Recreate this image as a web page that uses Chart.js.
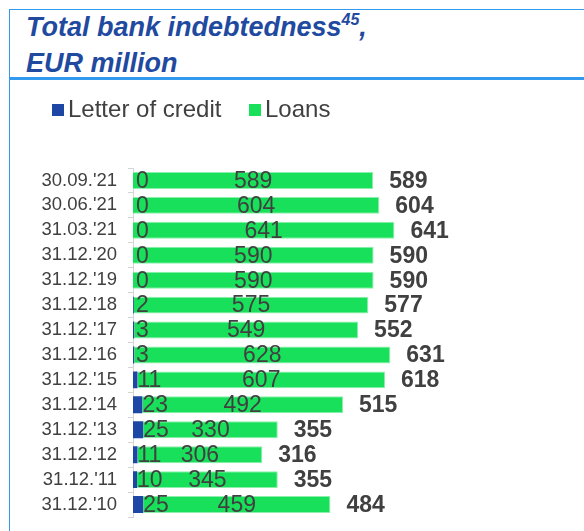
<!DOCTYPE html>
<html>
<head>
<meta charset="utf-8">
<script src="https://cdn.jsdelivr.net/npm/chart.js@4.4.1/dist/chart.umd.min.js"></script>
<style>
html,body{margin:0;padding:0;background:#fff;width:584px;height:531px;overflow:hidden;font-family:"Liberation Sans",Arial,sans-serif}
#frame{position:absolute;left:9px;top:9px;width:575px;height:522px;border-left:1px solid #3399ee;border-top:1px solid #3399ee;box-sizing:border-box}
#title{position:absolute;left:26px;top:11px;font:italic bold 27px "Liberation Sans",Arial,sans-serif;color:#1f4aa0;line-height:33px;white-space:nowrap}
#title .sup{font-size:16px;position:relative;top:-11px}
#rule{position:absolute;left:9px;top:77px;width:575px;height:3px;background:#3399ee}
#wrap{position:absolute;left:9px;top:60px;width:575px;height:471px}
</style>
</head>
<body>
<div id="frame"></div>
<div id="title">Total bank indebtedness<span class="sup">45</span>,<br>EUR million</div>
<div id="rule"></div>
<div id="wrap"><canvas id="c" width="575" height="471"></canvas></div>
<script>
const categories = ["30.09.'21","30.06.'21","31.03.'21","31.12.'20","31.12.'19","31.12.'18","31.12.'17","31.12.'16","31.12.'15","31.12.'14","31.12.'13","31.12.'12","31.12.'11","31.12.'10"];
const letterOfCredit = [0,0,0,0,0,2,3,3,11,23,25,11,10,25];
const loans = [589,604,641,590,590,575,549,628,607,492,330,306,345,459];
const totals = [589,604,641,590,590,577,552,631,618,515,355,316,355,484];
const seriesNames = ["Letter of credit","Loans"];
const seriesColors = ['#1e46a4', '#18e05a'];

const FONT = '"Liberation Sans", Arial, sans-serif';
const TEXT = '#404040';
const LEGEND_SIZE = 24;

const labelPlugin = {
  id: 'barLabels',
  afterDatasetsDraw(chart) {
    const ctx = chart.ctx;
    const locMeta = chart.getDatasetMeta(0);
    const loanMeta = chart.getDatasetMeta(1);
    ctx.save();
    ctx.fillStyle = TEXT;
    ctx.textBaseline = 'middle';
    locMeta.data.forEach((bar, i) => {
      ctx.font = '23px ' + FONT;
      ctx.textAlign = 'left';
      ctx.fillText(String(letterOfCredit[i]), Math.max(bar.x, bar.base + 3), bar.y + 1);
    });
    loanMeta.data.forEach((bar, i) => {
      ctx.font = '23px ' + FONT;
      ctx.textAlign = 'center';
      ctx.fillText(String(loans[i]), (bar.x + bar.base) / 2, bar.y + 1);
      ctx.font = 'bold 23px ' + FONT;
      ctx.textAlign = 'left';
      ctx.fillText(String(totals[i]), bar.x + 16, bar.y + 1);
    });
    ctx.restore();
  }
};

// legend squares drawn tight to the legend text
const legendSquares = {
  id: 'legendSquares',
  afterDraw(chart) {
    const lg = chart.legend;
    if (!lg || !lg.legendHitBoxes) return;
    const ctx = chart.ctx;
    ctx.save();
    lg.legendHitBoxes.forEach((hb, i) => {
      const textX = hb.left + LEGEND_SIZE / 2;
      const cy = hb.top + hb.height / 2;
      ctx.fillStyle = seriesColors[i];
      ctx.fillRect(textX - 16, cy - 6, 12, 12);
    });
    ctx.restore();
  }
};

new Chart(document.getElementById('c'), {
  type: 'bar',
  data: {
    labels: categories,
    datasets: [
      {label: seriesNames[0], data: letterOfCredit, backgroundColor: seriesColors[0], borderWidth: 0, categoryPercentage: 1, barPercentage: 0.68},
      {label: seriesNames[1], data: loans, backgroundColor: seriesColors[1], borderColor: '#8cefab', borderWidth: 1, categoryPercentage: 1, barPercentage: 0.68}
    ]
  },
  options: {
    indexAxis: 'y',
    responsive: false,
    animation: false,
    devicePixelRatio: 1,
    layout: {padding: {left: 15.4, right: 43.2, top: 6.4, bottom: 14}},
    scales: {
      x: {stacked: true, min: 0, max: 1000, display: false},
      y: {
        stacked: true,
        grid: {display: true, drawOnChartArea: false, drawTicks: true, tickLength: 5, color: '#d4d4d4', offset: true},
        border: {display: true, color: '#d4d4d4'},
        ticks: {color: TEXT, font: {size: 18.5, family: FONT}, padding: 11, autoSkip: false},
        afterFit(s) { s.width = 124 - 15.4; s.paddingTop = 0; s.paddingBottom = 0; }
      }
    },
    plugins: {
      legend: {
        position: 'top', align: 'start', weight: 3000,
        labels: {boxWidth: 0, boxHeight: 0, padding: 31.6, color: TEXT, font: {size: LEGEND_SIZE, family: FONT}}
      },
      title: {display: true, text: '', font: {size: 10, lineHeight: 1}, padding: {top: 0, bottom: 26}},
      tooltip: {enabled: false}
    }
  },
  plugins: [labelPlugin, legendSquares]
});
</script>
</body>
</html>
